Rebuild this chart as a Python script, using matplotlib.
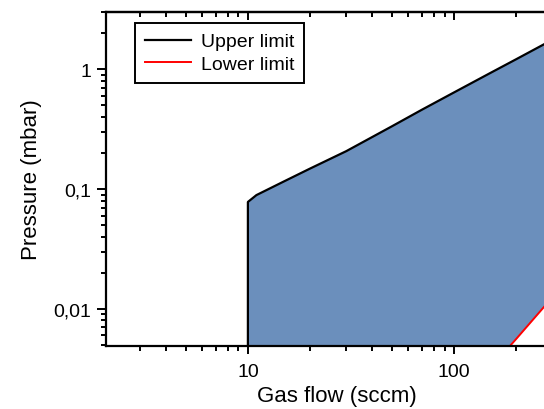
import matplotlib
matplotlib.use("Agg")
import matplotlib.pyplot as plt
from matplotlib.ticker import LogLocator, FixedLocator, NullFormatter, FuncFormatter

plt.rcParams['font.family'] = ['Liberation Sans', 'DejaVu Sans']

# Data
upper_flow = [10, 10, 11, 15, 20, 30, 50, 70, 100, 150, 200, 300]
upper_pressure = [0.001, 0.078, 0.089, 0.116, 0.148, 0.207, 0.334, 0.46, 0.64, 0.93, 1.21, 1.76]
lower_flow = [150, 200, 300]
lower_pressure = [0.0032, 0.0056, 0.0125]

x_ticks = [10, 100, 1000]
y_ticks = [0.01, 0.1, 1]
y_tick_labels = {0.01: "0,01", 0.1: "0,1", 1: "1"}

W, H = 544, 410
fig = plt.figure(figsize=(W / 100, H / 100), dpi=100)
left_px, right_px, top_px, bottom_px = 106, 568, 13, 347
ax = fig.add_axes([left_px / W, 1 - bottom_px / H,
                   (right_px - left_px) / W, (bottom_px - top_px) / H])
ax.set_xscale('log')
ax.set_yscale('log')
ax.set_xlim(2.05, 357)
ax.set_ylim(0.0049, 3.0)

fill_color = '#6B8FBC'
poly_x = list(upper_flow) + list(reversed(lower_flow)) + [10]
poly_y = list(upper_pressure) + list(reversed(lower_pressure)) + [0.001]
ax.fill(poly_x, poly_y, color=fill_color, zorder=1, linewidth=0)
ax.plot(upper_flow, upper_pressure, color='black', lw=1.6, label='Upper limit', zorder=2)
ax.plot(lower_flow, lower_pressure, color='red', lw=1.4, label='Lower limit', zorder=2)

for s in ['left', 'bottom', 'top']:
    ax.spines[s].set_linewidth(1.6)
ax.spines['right'].set_visible(False)

ax.xaxis.set_major_locator(FixedLocator(x_ticks))
ax.xaxis.set_minor_locator(LogLocator(base=10, subs=range(2, 10), numticks=20))
ax.yaxis.set_major_locator(FixedLocator(y_ticks))
ax.yaxis.set_minor_locator(LogLocator(base=10, subs=range(2, 10), numticks=20))
ax.xaxis.set_major_formatter(FuncFormatter(lambda v, p: f"{int(round(v))}"))
ax.xaxis.set_minor_formatter(NullFormatter())
ax.yaxis.set_major_formatter(FuncFormatter(lambda v, p: y_tick_labels.get(round(v, 4), "")))
ax.yaxis.set_minor_formatter(NullFormatter())

ax.tick_params(axis='x', which='both', direction='out', top=False, bottom=True,
               labelsize=14, width=1.4)
ax.tick_params(axis='x', which='major', length=6, pad=6)
ax.tick_params(axis='x', which='minor', length=3.5)
ax.tick_params(axis='y', which='both', direction='out', left=True, right=False,
               labelsize=14, width=1.4)
ax.tick_params(axis='y', which='major', length=6.5, pad=4)
ax.tick_params(axis='y', which='minor', length=3.5)

# top axis ticks pointing inward
sec = ax.secondary_xaxis('top')
sec.xaxis.set_major_locator(FixedLocator(x_ticks))
sec.xaxis.set_minor_locator(LogLocator(base=10, subs=range(2, 10), numticks=20))
sec.xaxis.set_major_formatter(NullFormatter())
sec.xaxis.set_minor_formatter(NullFormatter())
sec.tick_params(which='both', direction='in', width=1.4)
sec.tick_params(which='major', length=6)
sec.tick_params(which='minor', length=3.5)
sec.spines['top'].set_linewidth(1.6)

ax.set_xlabel('Gas flow (sccm)', fontsize=16, labelpad=4)
ax.set_ylabel('Pressure (mbar)', fontsize=16, labelpad=8)

leg = ax.legend(loc='upper left', bbox_to_anchor=(135 / W, 1 - 24 / H),
                bbox_transform=fig.transFigure, borderaxespad=0, fontsize=14,
                handlelength=2.4, fancybox=False, framealpha=1, edgecolor='black',
                borderpad=0.5, labelspacing=0.25, handletextpad=0.5)
leg.get_frame().set_linewidth(1.4)

fig.savefig('out.png', dpi=100)
